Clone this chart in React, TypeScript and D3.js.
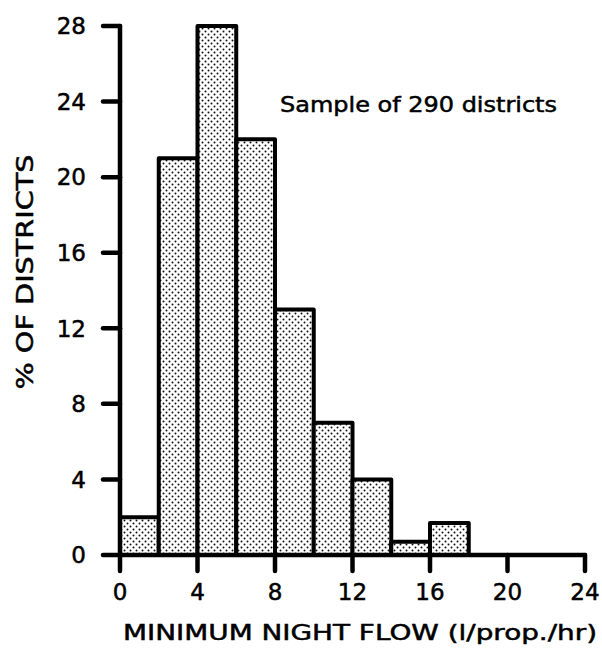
import React from "react";
import * as d3 from "d3";

const binStarts = [0, 2, 4, 6, 8, 10, 12, 14, 16];
const binWidth = 2;
const percents = [2, 21, 28, 22, 13, 7, 4, 0.7, 1.7];
const xTicks = [0, 4, 8, 12, 16, 20, 24];
const yTicks = [0, 4, 8, 12, 16, 20, 24, 28];
const xLabel = "MINIMUM NIGHT FLOW (l/prop./hr)";
const yLabel = "% OF DISTRICTS";
const note = "Sample of 290 districts";

export default function App() {
  const W = 602, H = 648;
  const x = d3.scaleLinear().domain([0, 24]).range([120, 585]);
  const y = d3.scaleLinear().domain([0, 28]).range([555, 26]);
  const font = "'DejaVu Sans', Verdana, sans-serif";
  const ts = { stroke: "#000", strokeWidth: 0.5 };
  return (
    <svg width={W} height={H} style={{ position: "absolute", left: 0, top: 0, background: "#fff" }}>
      <defs>
        <pattern id="dots" width="6" height="6" patternUnits="userSpaceOnUse">
          <rect width="6" height="6" fill="#fff" />
          <circle cx="1.5" cy="1.5" r="1" fill="#111" />
          <circle cx="4.5" cy="4.5" r="1" fill="#111" />
        </pattern>
      </defs>
      {percents.map((p, i) => (
        <rect key={i} x={x(binStarts[i])} y={y(p)} width={x(binStarts[i] + binWidth) - x(binStarts[i])}
          height={y(0) - y(p)} fill="url(#dots)" stroke="#000" strokeWidth={4} strokeLinejoin="round" />
      ))}
      {/* y axis */}
      <line x1={x(0)} x2={x(0)} y1={y(28)} y2={y(0)} stroke="#000" strokeWidth={4.5} strokeLinecap="round" />
      {yTicks.map((t) => (
        <g key={t}>
          <line x1={x(0) - 17} x2={x(0)} y1={y(t)} y2={y(t)} stroke="#000" strokeWidth={4.5} strokeLinecap="round" />
          <text x={86} y={y(t)} dy="0.36em" textAnchor="end" fontFamily={font} fontSize={23} {...ts}>{t}</text>
        </g>
      ))}
      {/* x axis */}
      <line x1={x(0)} x2={x(24)} y1={y(0)} y2={y(0)} stroke="#000" strokeWidth={4.5} strokeLinecap="round" />
      {xTicks.map((t) => (
        <g key={t}>
          <line x1={x(t)} x2={x(t)} y1={y(0)} y2={y(0) + 16} stroke="#000" strokeWidth={4.5} strokeLinecap="round" />
          <text x={x(t)} y={600} textAnchor="middle" fontFamily={font} fontSize={23} {...ts}>{t}</text>
        </g>
      ))}
      <text x={123} y={640} textLength={474} lengthAdjust="spacingAndGlyphs" fontFamily={font} fontSize={21} {...ts}>{xLabel}</text>
      <text transform="translate(33,272) rotate(-90)" textAnchor="middle" textLength={235} lengthAdjust="spacingAndGlyphs" fontFamily={font} fontSize={23} {...ts}>{yLabel}</text>
      <text x={280} y={112} textLength={277} lengthAdjust="spacingAndGlyphs" fontFamily={font} fontSize={21} {...ts}>{note}</text>
    </svg>
  );
}
